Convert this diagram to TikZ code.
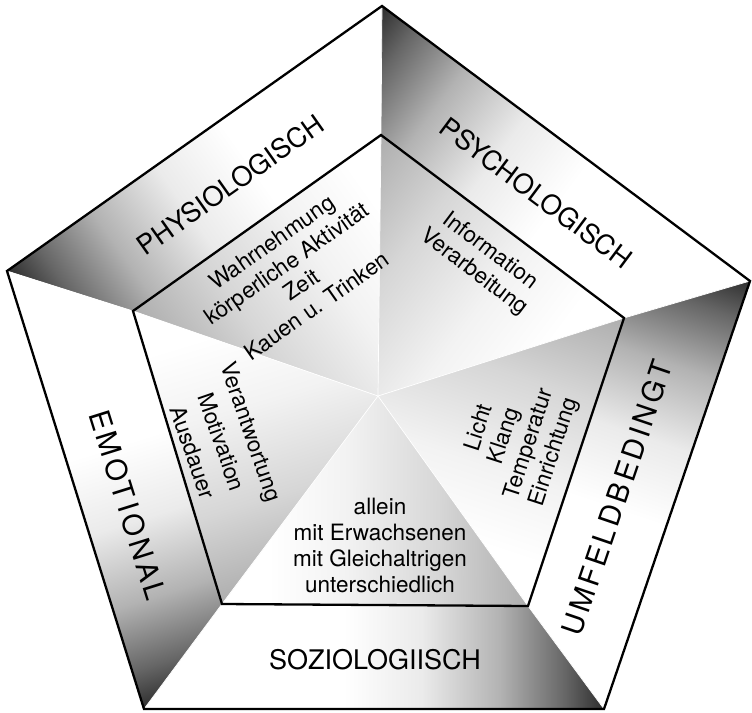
\documentclass[tikz,border=0pt]{standalone}
\usepackage{fontspec}
\setmainfont{TeX Gyre Heros}
\newfontfamily\widefont[LetterSpace=12]{TeX Gyre Heros}

% grey ramps: outer bands fade from near black, inner faces from a light grey
\colorlet{bandA}{black!82}
\colorlet{bandB}{black!60}
\colorlet{bandC}{black!30}
\colorlet{bandD}{black!8}
\pgfdeclarehorizontalshading{bandfade}{100bp}{color(0bp)=(bandA); color(25bp)=(bandA); color(32.5bp)=(bandB); color(45bp)=(bandC); color(60bp)=(bandD); color(75bp)=(white); color(100bp)=(white)}
\colorlet{facA}{black!32}
\colorlet{facB}{black!16}
\colorlet{facC}{black!5}
\pgfdeclarehorizontalshading{facefade}{100bp}{color(0bp)=(facA); color(25bp)=(facA); color(42bp)=(facB); color(60bp)=(facC); color(75bp)=(white); color(100bp)=(white)}

% #1 outline of a piece, #2 corner where the fade starts, #3 direction of the fade (deg),
% #4 length of the fade, #5 shading
\newcommand\fadepiece[5]{%
  \begin{scope}
    \clip #1 -- cycle;
    \fill[white] #1 -- cycle;
    \begin{scope}[transform canvas={shift={#2}, rotate=#3}]
      \shade[shading=#5] (0,-600) rectangle (#4,600);
    \end{scope}
  \end{scope}}

\begin{document}
\begin{tikzpicture}[x=1pt, y=-1pt,
  rim/.style={draw=black, line width=2.3pt, line join=miter},
  seam/.style={draw=white, line width=0.7pt},
  outerlabel/.style={inner sep=0pt, font=\fontsize{27}{30}\selectfont},
  widelabel/.style={inner sep=0pt, font=\widefont\fontsize{29}{32}\selectfont},
  innerlabel/.style={inner sep=0pt, align=center, font=\fontsize{22.5}{26}\selectfont}]

\useasboundingbox (0,0) rectangle (752,712);

% outer pentagon
\coordinate (OT)  at (382,6);
\coordinate (OR)  at (750,281);
\coordinate (OBR) at (604,709);
\coordinate (OBL) at (144,709);
\coordinate (OL)  at (7,271);
% inner pentagon
\coordinate (IT)  at (381,135);
\coordinate (IR)  at (624,318);
\coordinate (IBR) at (528,606);
\coordinate (IBL) at (222,604);
\coordinate (IL)  at (133,311);
% centre
\coordinate (C) at (378,396);

% outer bands
\fadepiece{(OL) -- (OT) -- (IT) -- (IL)}{(OL)}{35.25}{260}{bandfade}
\fadepiece{(OT) -- (OR) -- (IR) -- (IT)}{(OT)}{-36.77}{260}{bandfade}
\fadepiece{(OR) -- (OBR) -- (IBR) -- (IR)}{(OR)}{-108.83}{260}{bandfade}
\fadepiece{(OBR) -- (OBL) -- (IBL) -- (IBR)}{(OBR)}{180}{260}{bandfade}
\fadepiece{(OBL) -- (OL) -- (IL) -- (IBL)}{(OBL)}{107.37}{260}{bandfade}

% inner faces
\fadepiece{(IL) -- (IT) -- (C)}{(IL)}{35.36}{260}{facefade}
\fadepiece{(IT) -- (IR) -- (C)}{(IT)}{-36.98}{260}{facefade}
\fadepiece{(IR) -- (IBR) -- (C)}{(IR)}{-108.43}{260}{facefade}
\fadepiece{(IBR) -- (IBL) -- (C)}{(IBR)}{179.6}{260}{facefade}
\fadepiece{(IBL) -- (IL) -- (C)}{(IBL)}{106.9}{260}{facefade}

% light seams between the pieces
\foreach \a/\b in {OT/IT, OR/IR, OBR/IBR, OBL/IBL, OL/IL, C/IT, C/IR, C/IBR, C/IBL, C/IL}
  \draw[seam] (\a) -- (\b);

% outlines
\draw[rim] (OT) -- (OR) -- (OBR) -- (OBL) -- (OL) -- cycle;
\draw[rim] (IT) -- (IR) -- (IBR) -- (IBL) -- (IL) -- cycle;

% band titles
\node[outerlabel, rotate=35.25]  (phys)  at (230,185) {PHYSIOLOGISCH};
\node[outerlabel, rotate=-36.77] (psych) at (536,193) {PSYCHOLOGISCH};
\node[widelabel, rotate=71.17]   (umf)   at (617,498) {UMFELDBEDINGT};
\node[widelabel, rotate=-72.63]  (emo)   at (128,505) {EMOTIONAL};
\node[outerlabel]                (sozio) at (375,660) {SOZIOLOGIISCH};

% face contents
\node[innerlabel, rotate=35]  (physin)  at (294,274) {Wahrnehmung\\körperliche Aktivität\\Zeit\\Kauen u. Trinken};
\node[innerlabel, rotate=-37] (psychin) at (482,262) {Information\\Verarbeitung};
\node[innerlabel, rotate=72]  (umfin)   at (517,440) {Licht\\Klang\\Temperatur\\Einrichtung};
\node[innerlabel, rotate=-71, font=\fontsize{22.5}{31}\selectfont] (emoin) at (222,442) {Verantwortung\\Motivation\\Ausdauer};
\node[innerlabel]             (sozioin) at (380,545) {allein\\mit Erwachsenen\\mit Gleichaltrigen\\unterschiedlich};
\end{tikzpicture}
\end{document}
